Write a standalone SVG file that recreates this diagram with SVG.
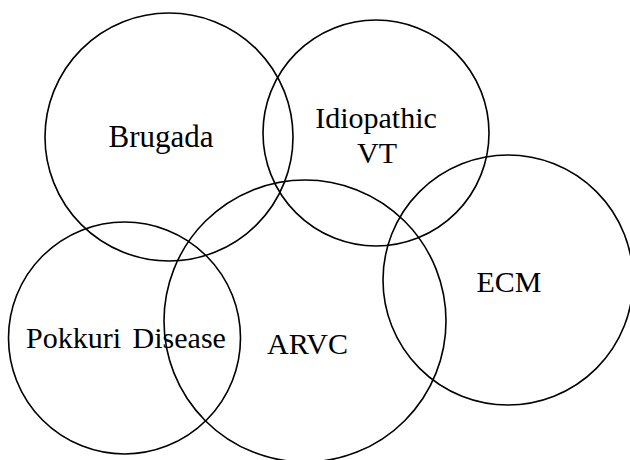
<svg xmlns="http://www.w3.org/2000/svg" width="630" height="460" viewBox="0 0 630 460">
<style>
.c{fill:none;stroke:#000;stroke-width:1.6}
.t{font-family:"Liberation Serif","Times New Roman",serif;font-size:30px;fill:#000;text-anchor:middle}
</style>
<rect width="630" height="460" fill="#fff"/>
<g id="brugada"><circle class="c" cx="169" cy="137" r="124"/><text class="t" x="161" y="147" style="font-size:31px">Brugada</text></g>
<g id="idiopathic-vt"><circle class="c" cx="376" cy="133" r="113"/><text class="t" x="376" y="128">Idiopathic</text><text class="t" x="377" y="163">VT</text></g>
<g id="ecm"><circle class="c" cx="508" cy="280" r="125"/><text class="t" x="509" y="292">ECM</text></g>
<g id="pokkuri"><circle class="c" cx="124.5" cy="338" r="116"/><text class="t" x="126" y="348" style="word-spacing:4px">Pokkuri Disease</text></g>
<g id="arvc"><circle class="c" cx="305" cy="321" r="141"/><text class="t" x="307.5" y="354">ARVC</text></g>
<g id="connectors"></g>
</svg>
